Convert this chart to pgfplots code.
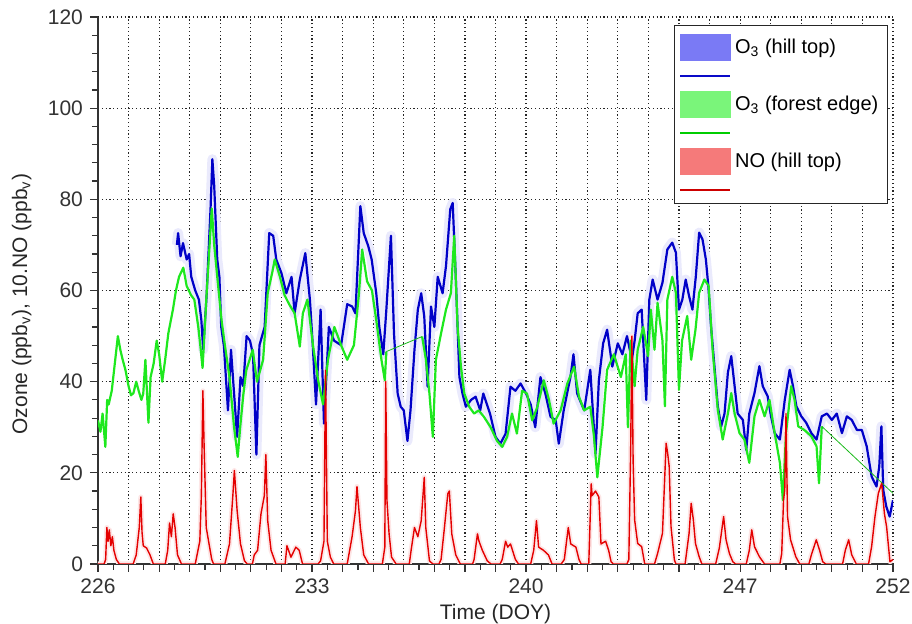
\documentclass[border=0pt]{standalone}
\usepackage{fontspec}
\setmainfont{Liberation Sans}
\usepackage{pgfplots}
\usepackage{pgfplotstable}
\pgfplotsset{compat=1.18}
\definecolor{blueL}{RGB}{0,0,200}
\definecolor{greenL}{RGB}{30,232,30}
\definecolor{redL}{RGB}{228,0,0}
\definecolor{haloB}{RGB}{234,234,252}
\definecolor{haloR}{RGB}{253,230,230}
\definecolor{legB}{RGB}{122,122,245}
\definecolor{legG}{RGB}{122,245,122}
\definecolor{legR}{RGB}{245,122,122}
\definecolor{legBl}{RGB}{10,10,200}
\definecolor{legGl}{RGB}{0,205,0}
\definecolor{legRl}{RGB}{205,0,0}

\pgfplotstableread{
x y
228.58 70
228.62 72.6
228.70 67.5
228.78 70.4
228.90 66.8
228.98 68
229.05 63
229.18 60
229.30 58
229.38 53.5
229.44 47
229.55 58.7
229.68 77.8
229.74 88.8
229.80 83
229.90 66.8
229.97 63
230.03 52
230.12 47.7
230.25 33.7
230.35 47
230.45 37.4
230.55 27.9
230.66 41
230.75 39
230.86 50
230.97 49
231.07 46
231.18 24
231.28 48
231.45 52
231.60 72.6
231.73 72
231.83 66.8
232.00 63.8
232.16 59.4
232.33 63
232.43 55
232.60 62.4
232.78 68.2
232.93 58
233.02 48.4
233.13 35
233.28 55.8
233.39 30.8
233.55 52
233.72 49
233.95 48
234.15 57
234.31 56.5
234.42 55
234.58 78.5
234.69 72.6
234.84 69.7
234.95 66.8
235.10 59.4
235.20 52
235.33 46
235.43 55.8
235.58 72
235.68 50.6
235.80 37.4
235.90 34.5
236.00 33.7
236.12 27
236.22 33.7
236.35 47
236.46 55.8
236.57 59.4
236.67 54.3
236.78 38.9
236.89 56.5
237.00 52
237.11 63
237.27 59.4
237.38 65.3
237.52 77.8
237.60 79.2
237.70 63
237.82 41
237.92 37.4
238.03 34.5
238.20 36
238.35 36.7
238.50 33.7
238.60 37.4
238.82 33
239.00 27.9
239.16 26.4
239.33 28.6
239.49 38.9
239.65 38
239.82 39.6
240.00 37.4
240.15 35
240.30 30
240.47 41
240.63 37.4
240.80 32.3
240.97 31.5
241.07 26.4
241.23 33.7
241.45 41
241.55 46
241.67 37.4
241.90 33.7
242.10 42.6
242.27 24.2
242.38 40.3
242.52 48.4
242.65 51.4
242.82 43.3
243.00 48.4
243.15 46
243.30 50
243.46 44.8
243.55 49
243.65 55
243.78 55.8
243.93 36
244.03 58
244.14 62.4
244.30 58
244.46 61.7
244.62 69
244.78 70.5
244.90 68.3
245.00 55.8
245.11 58
245.22 62.4
245.33 58.8
245.44 55.8
245.55 63
245.66 72.7
245.77 71.2
245.88 66.8
245.96 61
246.05 52
246.16 43.4
246.27 34.6
246.38 30.2
246.49 33
246.60 42
246.71 45.6
246.82 39
246.92 33
247.09 31.6
247.20 25
247.30 33
247.47 37.5
247.63 43.4
247.74 39
247.90 36.8
248.01 32.4
248.13 28.7
248.30 27.3
248.46 36
248.62 42.6
248.73 39
248.84 34.6
249.00 32.4
249.16 31
249.33 28.7
249.50 27.3
249.67 32.4
249.84 33
250.00 31.6
250.16 33
250.33 28.7
250.49 32.4
250.65 31.6
250.82 29.4
250.98 29.4
251.14 25.8
251.30 19.2
251.46 17
251.55 21.4
251.62 30.2
251.68 16.3
251.78 12.6
251.89 10.4
252.00 14
}\blueO

\pgfplotstableread{
x y
226.00 31.5
226.08 29
226.15 33
226.24 25.7
226.30 36
226.35 35
226.45 38
226.55 44
226.65 50
226.73 47
226.80 45
226.90 42.5
227.00 39
227.08 37
227.16 37.5
227.25 40
227.33 38
227.42 36
227.48 37.4
227.55 44.8
227.65 31
227.72 41
227.82 44
227.92 49
228.00 46
228.10 40
228.20 45
228.30 50.6
228.45 55.8
228.55 60
228.65 63
228.79 65
228.90 61
229.04 59
229.15 58
229.28 52
229.35 47.7
229.42 43
229.55 59
229.65 70
229.72 78
229.80 70
229.90 63
230.04 53.5
230.15 48
230.30 41
230.45 30
230.57 23.5
230.65 30
230.75 37
230.85 42.5
231.06 47
231.20 40
231.40 44.8
231.55 59.4
231.70 64
231.78 66.8
231.95 63
232.10 59
232.25 57
232.43 55
232.60 47.7
232.70 55
232.85 58
233.03 48
233.20 40.3
233.36 35
233.52 44.8
233.73 52
233.95 48
234.15 44.8
234.37 48
234.53 59
234.64 69
234.80 62
234.96 60
235.10 53.5
235.27 44.8
235.38 40.3
235.43 46.6
}\greenA

\pgfplotstableread{
x y
236.60 49.9
236.72 45
236.84 37.4
236.95 27.9
237.05 44.8
237.22 50.6
237.38 55.8
237.54 59.4
237.65 72
237.76 52
237.87 43.3
237.98 37.4
238.14 34.5
238.30 33
238.45 33.7
238.62 32.3
238.84 30
239.05 27
239.22 25.7
239.38 27.9
239.54 33
239.70 28.6
239.87 38
240.03 37.4
240.20 31.5
240.37 34.5
240.58 40.3
240.75 36
240.90 30.8
241.13 33.7
241.35 39.6
241.57 43.3
241.73 36.7
241.90 33.7
242.10 34.5
242.22 28
242.33 19
242.50 30
242.65 42.6
242.87 46
243.10 41
243.26 46
243.33 30
243.42 49
243.55 39
243.65 47
243.83 52
243.99 45.6
244.08 55.8
244.20 47
244.30 57.3
244.46 49
244.54 34.6
244.62 58
244.78 63
244.90 59.5
245.00 38.2
245.10 49
245.27 54.4
245.40 44.8
245.54 51.4
245.66 59.5
245.83 62.4
245.97 61
246.10 47
246.27 33.8
246.43 27.3
246.60 33
246.71 37.5
246.82 33
246.98 28.7
247.14 27.3
247.30 22.2
247.47 32.4
247.63 36
247.80 32.4
247.96 36
248.13 28.7
248.30 22.2
248.40 14
248.50 28.7
248.67 39
248.78 36
248.90 30.2
249.10 29.4
249.33 28
249.50 25.8
249.58 17.7
249.67 30.2
}\greenB

\pgfplotstableread{
x y
226.00 0
226.20 0
226.25 1
226.29 8
226.33 5
226.37 7.5
226.42 4
226.47 6
226.52 3
226.60 1
226.70 0
227.15 0
227.25 2
227.35 8
227.40 14.7
227.44 7
227.48 4
227.59 3.5
227.70 2
227.81 0
228.20 0
228.28 3
228.34 9
228.40 6
228.46 11
228.52 8
228.60 2
228.73 0
229.18 0
229.33 5
229.38 15
229.43 38
229.47 26
229.54 8
229.65 3.7
229.72 1
229.78 0
230.15 0
230.30 4.4
230.41 15
230.46 20.5
230.55 11.7
230.66 4.4
230.79 0.7
230.88 0
231.05 0
231.11 2
231.22 3
231.33 11
231.44 15
231.49 24
231.55 9.5
231.66 3
231.82 0
232.12 0
232.18 4
232.31 1.5
232.47 3.7
232.58 3
232.69 0
233.20 0
233.28 0.7
233.39 5
233.44 42.5
233.50 5
233.60 1.5
233.71 0
234.15 0
234.31 6
234.42 11.7
234.47 17
234.58 8
234.69 2
234.85 0
235.30 0
235.38 3.7
235.41 40
235.45 14
235.52 6.6
235.60 1.5
235.75 0
236.18 0
236.24 3
236.35 8
236.46 6
236.57 9.5
236.67 19
236.72 8
236.84 0.7
236.95 0
237.15 0
237.22 1
237.33 8
237.44 15.4
237.49 16
237.57 6.6
237.70 2
237.85 0
238.25 0
238.30 1
238.41 6.6
238.46 5
238.57 3
238.73 0.7
238.85 0
239.15 0
239.22 1
239.33 5
239.40 3.7
239.49 4.4
239.65 1
239.75 0
240.15 0
240.25 3
240.34 9.5
240.41 3.7
240.57 3
240.73 2
240.85 0
241.15 0
241.25 1
241.38 8
241.46 4.4
241.63 3.7
241.73 1
241.80 0
242.05 0
242.13 17.6
242.16 15
242.27 16
242.38 14.7
242.45 4.4
242.60 5
242.70 3
242.78 0.5
242.85 0
243.30 0
243.36 1
243.42 25
243.46 50
243.50 22.7
243.55 9.7
243.65 4.5
243.78 3.8
243.88 0
244.20 0
244.30 2.3
244.46 6.7
244.58 26.5
244.63 24.3
244.68 21.4
244.74 8.2
244.85 0.9
244.90 0
245.20 0
245.33 6.7
245.40 13.3
245.47 9.7
245.54 4.5
245.66 1.6
245.75 0
246.20 0
246.32 3.5
246.46 10.4
246.54 5.3
246.65 2.3
246.76 0.5
246.85 0
247.20 0
247.30 3
247.38 7.5
247.47 3.8
247.63 1.6
247.80 0
248.30 0
248.36 2.3
248.42 14
248.46 16.3
248.50 33
248.55 10.4
248.65 5.3
248.82 1.6
248.95 0
249.25 0
249.33 2
249.49 5.3
249.60 3
249.70 0.5
249.80 0
250.35 0
250.44 3
250.55 5.3
250.65 2
250.80 0
251.20 0
251.30 3.8
251.41 10.4
251.52 15.5
251.63 17.7
251.72 11
251.79 8.2
251.90 0.5
252.00 1
}\noHT

\begin{document}
\begin{tikzpicture}
\begin{axis}[
  scale only axis, width=397.5pt, height=273.5pt,
  xmin=226, xmax=252, ymin=0, ymax=120,
  axis x line*=bottom, axis y line*=left,
  axis line style={draw=black!80, line width=0.7pt, -},
  xtick={226,...,252},
  xticklabels={226,,,,,,,233,,,,,,,240,,,,,,,247,,,,,252},
  minor x tick num=1,
  ytick={0,20,...,120}, minor y tick num=4,
  tick align=outside, major tick length=4pt, minor tick length=3pt,
  tick style={draw=black!80, line width=0.6pt},
  grid=major,
  major grid style={draw=black!85, line width=0.6pt, dash pattern=on 0.6pt off 1.3pt},
  /pgf/number format/assume math mode=true,
  tick label style={font=\fontsize{10.5}{12}\selectfont, text=black!80},
  label style={font=\fontsize{10.5}{12}\selectfont, text=black!85},
  xlabel={Time (DOY)},
  ylabel={Ozone (ppb\textsubscript{v}), 10.NO (ppb\textsubscript{v})},
  xlabel style={at={(axis description cs:0.5,-0.092)}, anchor=center},
  ylabel style={at={(axis description cs:-0.096,0.475)}, anchor=center},
  legend style={at={(rel axis cs:0.9937,0.985)}, anchor=north east,
    draw=black!85, line width=0.6pt, fill=white,
    font=\fontsize{10}{12}\selectfont, row sep=4.7pt,
    inner xsep=2.5pt, inner ysep=4pt},
  legend cell align=left,
]
\addplot[draw=haloB, line width=5pt, line join=round, forget plot] table {\blueO};
\addplot[draw=haloR, line width=2.5pt, line join=round, forget plot] table {\noHT};
\addplot[draw=blueL, line width=1.1pt, line join=round, forget plot] table {\blueO};
\addplot[draw=greenL, line width=1.1pt, line join=round, forget plot] table {\greenA};
\addplot[draw=greenL, line width=1.1pt, line join=round, forget plot] table {\greenB};
\addplot[draw=greenL!80!black, line width=0.4pt, forget plot] coordinates {(235.43,46.6) (236.60,49.9)};
\addplot[draw=greenL!80!black, line width=0.4pt, forget plot] coordinates {(249.67,30.2) (252.00,15.5)};
\addplot[draw=redL, line width=0.7pt, line join=round, forget plot] table {\noHT};

\addlegendimage{legend image code/.code={\fill[legB] (0pt,-6.5pt) rectangle (25pt,6.5pt);}}
\addlegendentry{O\textsubscript{3} (hill top)}
\addlegendimage{legend image code/.code={\draw[legBl, line width=0.7pt] (0pt,0pt) -- (25pt,0pt);}}
\addlegendentry{\mbox{}}
\addlegendimage{legend image code/.code={\fill[legG] (0pt,-6.5pt) rectangle (25pt,6.5pt);}}
\addlegendentry{O\textsubscript{3} (forest edge)}
\addlegendimage{legend image code/.code={\draw[legGl, line width=0.7pt] (0pt,0pt) -- (25pt,0pt);}}
\addlegendentry{\mbox{}}
\addlegendimage{legend image code/.code={\fill[legR] (0pt,-6.5pt) rectangle (25pt,6.5pt);}}
\addlegendentry{NO (hill top)}
\addlegendimage{legend image code/.code={\draw[legRl, line width=0.7pt] (0pt,0pt) -- (25pt,0pt);}}
\addlegendentry{\mbox{}}
\end{axis}
\pgfresetboundingbox
\path[use as bounding box] ([xshift=-49pt,yshift=-30pt]current axis.south west) rectangle ([xshift=9.5pt,yshift=8.5pt]current axis.north east);
\end{tikzpicture}
\end{document}
